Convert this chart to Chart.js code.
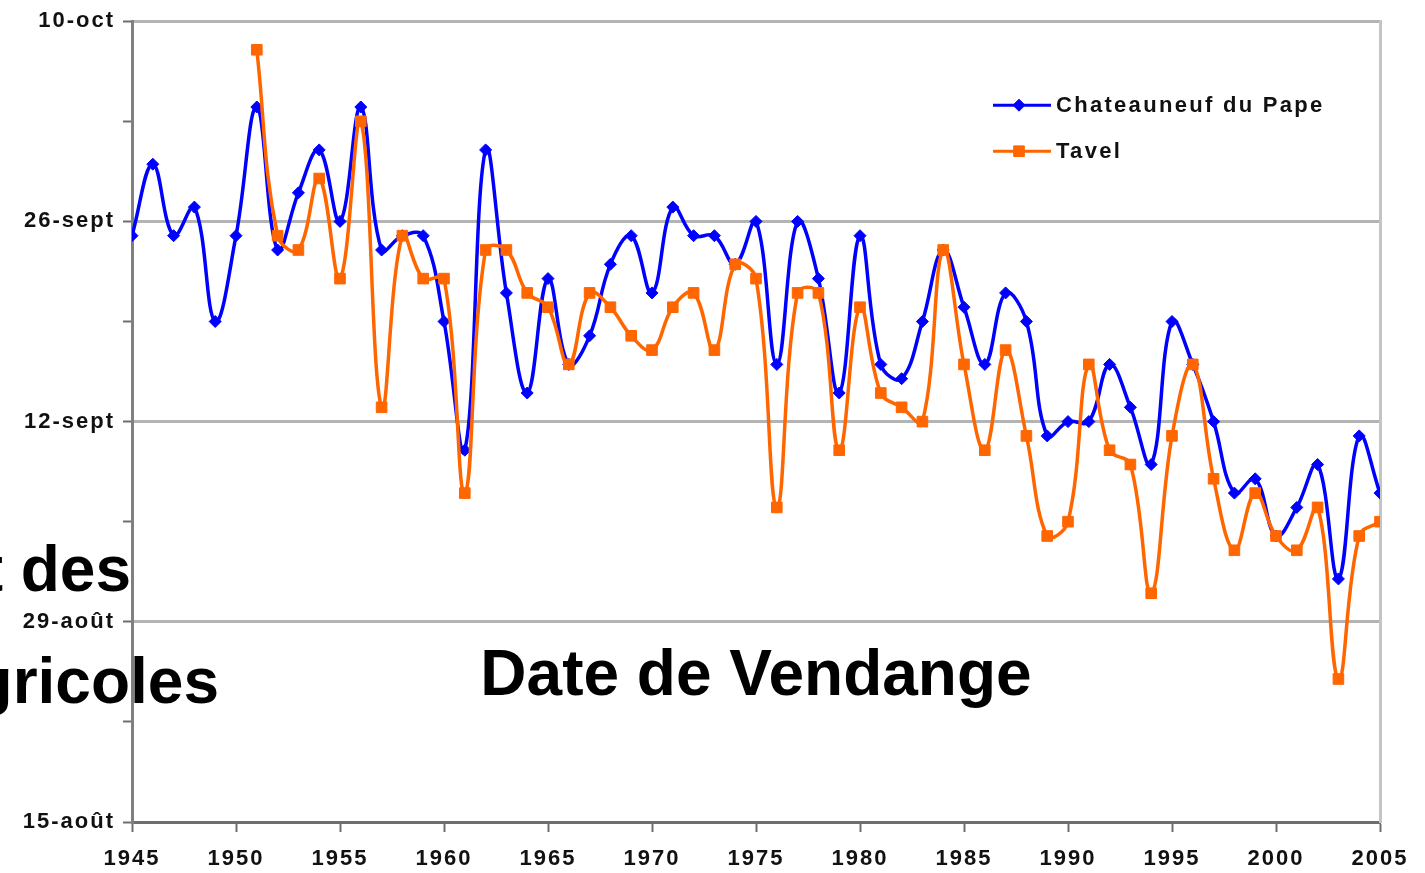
<!DOCTYPE html>
<html lang="fr">
<head>
<meta charset="utf-8">
<title>Date de Vendange</title>
<script src="https://cdn.jsdelivr.net/npm/chart.js@4.4.1/dist/chart.umd.min.js"></script>
<style>
  html, body { margin: 0; padding: 0; background: #fff; }
  #vendangeChart { display: block; }
</style>
</head>
<body>
<canvas id="vendangeChart" width="1425" height="873"></canvas>
<script>
// harvest dates, counted in days after 15 August
const years = [
  1945, 1946, 1947, 1948, 1949, 1950, 1951, 1952, 1953, 1954,
  1955, 1956, 1957, 1958, 1959, 1960, 1961, 1962, 1963, 1964,
  1965, 1966, 1967, 1968, 1969, 1970, 1971, 1972, 1973, 1974,
  1975, 1976, 1977, 1978, 1979, 1980, 1981, 1982, 1983, 1984,
  1985, 1986, 1987, 1988, 1989, 1990, 1991, 1992, 1993, 1994,
  1995, 1996, 1997, 1998, 1999, 2000, 2001, 2002, 2003, 2004,
  2005
];
const chateauneuf = [
  41, 46, 41, 43, 35, 41, 50, 40, 44, 47,
  42, 50, 40, 41, 41, 35, 26, 47, 37, 30,
  38, 32, 34, 39, 41, 37, 43, 41, 41, 39,
  42, 32, 42, 38, 30, 41, 32, 31, 35, 40,
  36, 32, 37, 35, 27, 28, 28, 32, 29, 25,
  35, 32, 28, 23, 24, 20, 22, 25, 17, 27,
  23
];
const tavel = [
  null, null, null, null, null, null, 54, 41, 40, 45,
  38, 49, 29, 41, 38, 38, 23, 40, 40, 37,
  36, 32, 37, 36, 34, 33, 36, 37, 33, 39,
  38, 22, 37, 37, 26, 36, 30, 29, 28, 40,
  32, 26, 33, 27, 20, 21, 32, 26, 25, 16,
  27, 32, 24, 19, 23, 20, 19, 22, 10, 20,
  21
];
const seriesNames = ["Chateauneuf du Pape", "Tavel"];
// one label every two weeks, starting at 15 August
const yTickLabels = ["15-août", "29-août", "12-sept", "26-sept", "10-oct"];

const colors = {
  chateauneuf: "#0000ff",
  tavel: "#ff6600",
  grid: "#b4b4b4",
  axis: "#6e6e6e",
  text: "#111111",
};
const fontFamily = "'Liberation Sans', Arial, sans-serif";
const tickFont = { family: fontFamily, size: 22, weight: "bold" };

function toPoints(values) {
  return years
    .map((yr, i) => ({ x: yr, y: values[i] }))
    .filter((p) => p.y !== null);
}

// the axis labels are widely spaced, so the spacing is set before layout
const spacedText = {
  id: "spacedText",
  beforeLayout(chart) {
    chart.ctx.letterSpacing = "2px";
  },
};

function drawMarker(ctx, style, x, y, r) {
  ctx.beginPath();
  if (style === "rectRot") {
    ctx.moveTo(x - r, y);
    ctx.lineTo(x, y - r);
    ctx.lineTo(x + r, y);
    ctx.lineTo(x, y + r);
  } else {
    const s = r * Math.SQRT1_2;
    ctx.rect(x - s, y - s, 2 * s, 2 * s);
  }
  ctx.closePath();
  ctx.fill();
  ctx.stroke();
}

// legend sits inside the plot, top right
const seriesLegend = {
  id: "seriesLegend",
  afterDatasetsDraw(chart) {
    const { ctx, chartArea } = chart;
    const x0 = chartArea.right - 387;
    chart.data.datasets.forEach((ds, i) => {
      const y = chartArea.top + 84 + i * 46;
      ctx.save();
      ctx.strokeStyle = ds.borderColor;
      ctx.fillStyle = ds.backgroundColor;
      ctx.lineWidth = 3;
      ctx.beginPath();
      ctx.moveTo(x0, y);
      ctx.lineTo(x0 + 58, y);
      ctx.stroke();
      ctx.lineWidth = 1;
      drawMarker(ctx, ds.pointStyle, x0 + 26, y, ds.pointRadius);
      ctx.font = `bold 22px ${fontFamily}`;
      ctx.letterSpacing = "2.3px";
      ctx.fillStyle = colors.text;
      ctx.textAlign = "left";
      ctx.textBaseline = "middle";
      ctx.fillText(ds.label, x0 + 63, y + 1);
      ctx.restore();
    });
  },
};

// slide text lying over the chart
const slideText = {
  id: "slideText",
  afterDraw(chart) {
    const ctx = chart.ctx;
    ctx.save();
    ctx.letterSpacing = "0px";
    ctx.font = `bold 64px ${fontFamily}`;
    ctx.fillStyle = "#000";
    ctx.textBaseline = "alphabetic";
    ctx.textAlign = "right";
    ctx.fillText("t des", 131, 591);
    ctx.fillText("gricoles", 219, 703);
    ctx.textAlign = "center";
    ctx.fillText("Date de Vendange", 756, 695);
    ctx.restore();
  },
};

const ctx = document.getElementById("vendangeChart").getContext("2d");

const vendangeChart = new Chart(ctx, {
  type: "line",
  data: {
    datasets: [
      {
        label: seriesNames[0],
        data: toPoints(chateauneuf),
        borderColor: colors.chateauneuf,
        backgroundColor: colors.chateauneuf,
        borderWidth: 3.5,
        pointStyle: "rectRot",
        pointRadius: 6,
        pointBorderWidth: 1,
        tension: 0.4,
        order: 2,
      },
      {
        label: seriesNames[1],
        data: toPoints(tavel),
        borderColor: colors.tavel,
        backgroundColor: colors.tavel,
        borderWidth: 3.5,
        pointStyle: "rect",
        pointRadius: 7.5,
        pointBorderWidth: 1,
        tension: 0.4,
        order: 1,
      },
    ],
  },
  options: {
    responsive: false,
    animation: false,
    devicePixelRatio: 1,
    layout: {
      padding: { top: 20, right: 0, bottom: 0, left: 0 },
    },
    scales: {
      x: {
        type: "linear",
        min: 1945,
        max: 2005,
        ticks: {
          stepSize: 5,
          font: tickFont,
          color: colors.text,
          padding: 14,
          maxRotation: 0,
          callback: (v) => String(v),
        },
        grid: {
          drawOnChartArea: false,
          tickLength: 10,
          tickColor: colors.axis,
          tickWidth: 2,
        },
        border: { color: colors.axis, width: 3 },
        afterFit: (scale) => {
          scale.height = 51;
        },
      },
      y: {
        min: 0,
        max: 56,
        ticks: {
          stepSize: 7,
          font: tickFont,
          color: colors.text,
          padding: 8,
          callback: (v) => (v % 14 === 0 ? yTickLabels[v / 14] : ""),
        },
        grid: {
          color: (c) =>
            c.tick && c.tick.value > 0 && c.tick.value % 14 === 0
              ? colors.grid
              : "rgba(0,0,0,0)",
          lineWidth: 3,
          tickLength: 9,
          tickColor: colors.axis,
          tickWidth: 2,
        },
        border: { color: "#808080", width: 3 },
        afterFit: (scale) => {
          scale.width = 132;
        },
      },
      yRight: {
        position: "right",
        min: 0,
        max: 56,
        ticks: { display: false },
        grid: { drawOnChartArea: false, drawTicks: false },
        border: { color: "#c4c4c4", width: 3 },
        afterFit: (scale) => {
          scale.width = 45;
        },
      },
    },
    plugins: {
      legend: { display: false },
      tooltip: { enabled: false },
    },
  },
  plugins: [spacedText, seriesLegend, slideText],
});
</script>
</body>
</html>
